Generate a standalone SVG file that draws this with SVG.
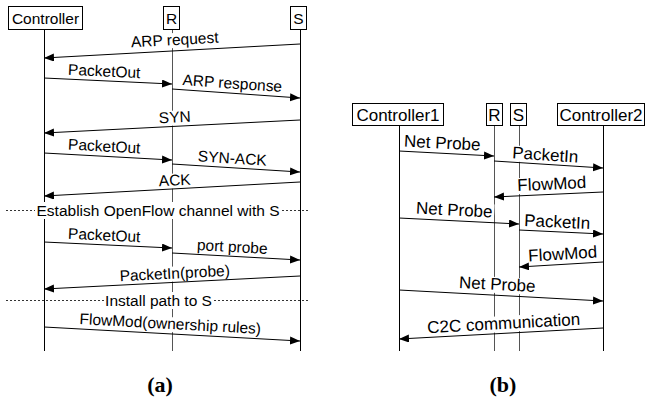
<svg xmlns="http://www.w3.org/2000/svg" width="645" height="401" viewBox="0 0 645 401">
<style>
.box{fill:#fff;stroke:#000;stroke-width:1}
.life{stroke:#000;stroke-width:1;fill:none}
.life2{stroke:#555;stroke-width:1;fill:none}
.t{font-family:"Liberation Sans",Arial,sans-serif;font-size:15.5px;fill:#000;text-anchor:middle}
.t2{font-family:"Liberation Sans",Arial,sans-serif;font-size:17px;fill:#000;text-anchor:middle}
.cap{font-family:"Liberation Serif","Times New Roman",serif;font-size:22px;font-weight:bold;fill:#000;text-anchor:middle}
.msg{stroke:#000;stroke-width:1;fill:none;marker-end:url(#ah)}
.bg{fill:#fff;stroke:none}
.dot{stroke:#333;stroke-width:1;stroke-dasharray:2 2;fill:none}
</style>
<defs>
<marker id="ah" markerUnits="userSpaceOnUse" markerWidth="11" markerHeight="9" refX="10" refY="4" orient="auto">
<path d="M0,0 L10,4 L0,8 z" fill="#000"/>
</marker>
</defs>
<rect width="645" height="401" fill="#fff"/>

<g id="lifelines-a">
<line class="life" x1="44.5" y1="29" x2="44.5" y2="351"/>
<line class="life2" x1="172.5" y1="29" x2="172.5" y2="351"/>
<line class="life" x1="300.5" y1="29" x2="300.5" y2="351"/>
</g>
<g id="lifelines-b">
<line class="life" x1="399.5" y1="125" x2="399.5" y2="351"/>
<line class="life2" x1="494.5" y1="125" x2="494.5" y2="351"/>
<line class="life2" x1="519.5" y1="125" x2="519.5" y2="351"/>
<line class="life" x1="603.5" y1="125" x2="603.5" y2="351"/>
</g>

<g id="node-controller"><rect class="box" x="8.5" y="6.5" width="74" height="23"/><text class="t" x="45.5" y="23.5">Controller</text></g>
<g id="node-r-a"><rect class="box" x="163.5" y="6.5" width="16" height="23"/><text class="t" x="171.5" y="23.5">R</text></g>
<g id="node-s-a"><rect class="box" x="290.5" y="6.5" width="16" height="23"/><text class="t" x="298.5" y="23.5">S</text></g>

<g id="node-controller1"><rect class="box" x="352.5" y="103.5" width="91" height="22"/><text class="t2" x="398" y="120.5">Controller1</text></g>
<g id="node-r-b"><rect class="box" x="486.5" y="103.5" width="16" height="22"/><text class="t2" x="494.5" y="120.5">R</text></g>
<g id="node-s-b"><rect class="box" x="510.5" y="103.5" width="16" height="22"/><text class="t2" x="518.5" y="120.5">S</text></g>
<g id="node-controller2"><rect class="box" x="557.5" y="103.5" width="87" height="22"/><text class="t2" x="601" y="120.5">Controller2</text></g>

<g id="sep-1">
<line class="dot" x1="6" y1="210.5" x2="310" y2="210.5"/>
<rect class="bg" x="35" y="202" width="246" height="17"/>
<text class="t" x="158" y="215.5">Establish OpenFlow channel with S</text>
</g>
<g id="sep-2">
<line class="dot" x1="6" y1="300.5" x2="310" y2="300.5"/>
<rect class="bg" x="104" y="292" width="109" height="17"/>
<text class="t" x="158.5" y="305.5">Install path to S</text>
</g>

<g id="labels-a">
<g transform="translate(175,45) rotate(-3.1)"><rect class="bg" x="-45" y="-12" width="90" height="15"/><text class="t" x="0" y="0">ARP request</text></g>
<g transform="translate(104,76.5) rotate(2.7)"><rect class="bg" x="-37" y="-12" width="74" height="15"/><text class="t" x="0" y="0">PacketOut</text></g>
<g transform="translate(232,88.5) rotate(4)"><rect class="bg" x="-51" y="-12" width="102" height="15"/><text class="t" x="0" y="0">ARP response</text></g>
<g transform="translate(175,122.5) rotate(-2.9)"><rect class="bg" x="-17" y="-12" width="34" height="15"/><text class="t" x="0" y="0">SYN</text></g>
<g transform="translate(104,151.5) rotate(3.1)"><rect class="bg" x="-37" y="-12" width="74" height="15"/><text class="t" x="0" y="0">PacketOut</text></g>
<g transform="translate(232,163.5) rotate(3.6)"><rect class="bg" x="-35" y="-12" width="70" height="15"/><text class="t" x="0" y="0">SYN-ACK</text></g>
<g transform="translate(175,185.5) rotate(-3.1)"><rect class="bg" x="-17" y="-12" width="34" height="15"/><text class="t" x="0" y="0">ACK</text></g>
<g transform="translate(104,240.5) rotate(2.7)"><rect class="bg" x="-37" y="-12" width="74" height="15"/><text class="t" x="0" y="0">PacketOut</text></g>
<g transform="translate(232,252) rotate(3.1)"><rect class="bg" x="-36" y="-12" width="72" height="15"/><text class="t" x="0" y="0">port probe</text></g>
<g transform="translate(175,278.5) rotate(-2.9)"><rect class="bg" x="-56" y="-12" width="112" height="15"/><text class="t" x="0" y="0">PacketIn(probe)</text></g>
<g transform="translate(170,329) rotate(3.1)"><rect class="bg" x="-95" y="-12" width="190" height="15"/><text class="t" x="0" y="0">FlowMod(ownership rules)</text></g>
</g>

<g id="labels-b">
<g transform="translate(442,148.5) rotate(3)"><rect class="bg" x="-40" y="-13" width="80" height="16"/><text class="t2" x="0" y="0">Net Probe</text></g>
<g transform="translate(545,160.5) rotate(3.7)"><rect class="bg" x="-34" y="-13" width="68" height="16"/><text class="t2" x="0" y="0">PacketIn</text></g>
<g transform="translate(552,189.5) rotate(-2.6)"><rect class="bg" x="-36" y="-13" width="72" height="16"/><text class="t2" x="0" y="0">FlowMod</text></g>
<g transform="translate(454,215.5) rotate(2.9)"><rect class="bg" x="-40" y="-13" width="80" height="16"/><text class="t2" x="0" y="0">Net Probe</text></g>
<g transform="translate(557,227.5) rotate(2.7)"><rect class="bg" x="-34" y="-13" width="68" height="16"/><text class="t2" x="0" y="0">PacketIn</text></g>
<g transform="translate(563,259.5) rotate(-3.4)"><rect class="bg" x="-36" y="-13" width="72" height="16"/><text class="t2" x="0" y="0">FlowMod</text></g>
<g transform="translate(497,290) rotate(3.1)"><rect class="bg" x="-40" y="-13" width="80" height="16"/><text class="t2" x="0" y="0">Net Probe</text></g>
<g transform="translate(504,329) rotate(-3.1)"><rect class="bg" x="-82" y="-13" width="164" height="16"/><text class="t2" x="0" y="0">C2C communication</text></g>
</g>

<g id="connectors">
<line class="msg" x1="300" y1="44" x2="44" y2="58"/>
<line class="msg" x1="44" y1="78" x2="172" y2="84"/>
<line class="msg" x1="172" y1="89" x2="300" y2="98"/>
<line class="msg" x1="300" y1="120" x2="44" y2="133"/>
<line class="msg" x1="44" y1="153" x2="172" y2="160"/>
<line class="msg" x1="172" y1="164" x2="300" y2="172"/>
<line class="msg" x1="300" y1="182" x2="44" y2="196"/>
<line class="msg" x1="44" y1="242" x2="172" y2="248"/>
<line class="msg" x1="172" y1="253" x2="300" y2="260"/>
<line class="msg" x1="300" y1="276" x2="44" y2="289"/>
<line class="msg" x1="44" y1="327" x2="300" y2="341"/>

<line class="msg" x1="399" y1="151" x2="494" y2="156"/>
<line class="msg" x1="494" y1="161" x2="603" y2="168"/>
<line class="msg" x1="603" y1="192" x2="494" y2="197"/>
<line class="msg" x1="399" y1="218" x2="519" y2="224"/>
<line class="msg" x1="519" y1="230" x2="603" y2="234"/>
<line class="msg" x1="603" y1="262" x2="519" y2="267"/>
<line class="msg" x1="399" y1="290" x2="603" y2="301"/>
<line class="msg" x1="603" y1="328" x2="399" y2="339"/>
</g>

<text class="cap" x="160" y="392">(a)</text>
<text class="cap" x="503" y="392">(b)</text>
</svg>
